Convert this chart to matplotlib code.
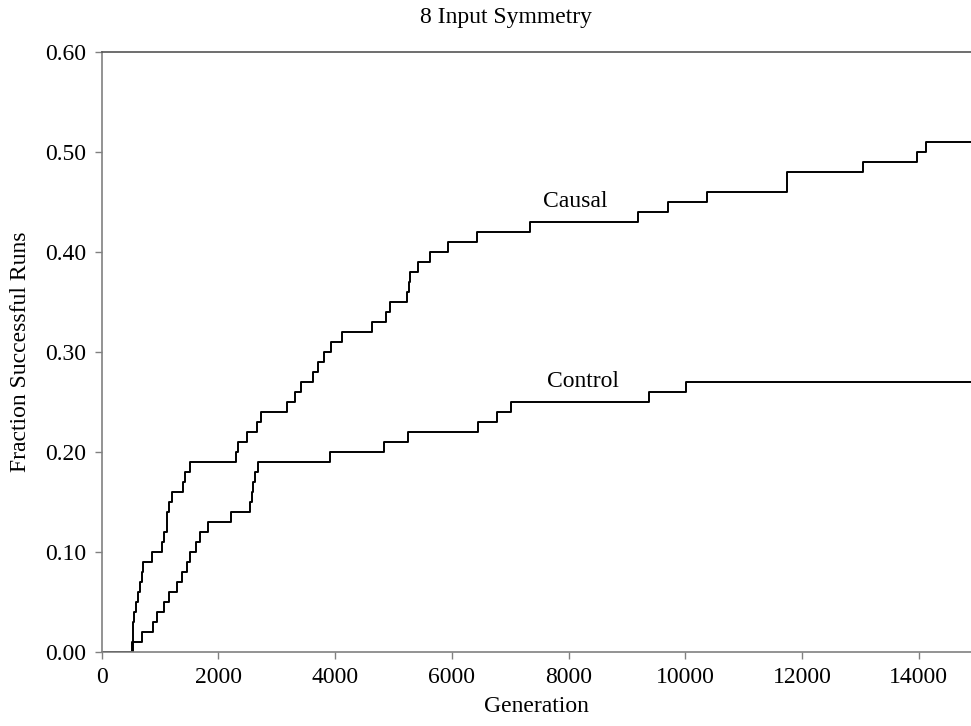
import matplotlib
matplotlib.use("Agg")
import matplotlib.pyplot as plt

# Causal series: generation at which fraction steps up, and new fraction
causal_gen = [0, 514, 535, 560, 585, 615, 650, 690, 713, 857, 1028, 1070, 1114, 1150,
              1199, 1388, 1427, 1513, 2296, 2340, 2484, 2666, 2724, 3180, 3312, 3409,
              3626, 3711, 3809, 3929, 4123, 4626, 4871, 4939, 5236, 5260, 5290, 5425,
              5625, 5939, 6424, 7338, 9183, 9697, 10365, 11736, 13038, 13973, 14122, 14900]
causal_frac = [0.00, 0.01, 0.03, 0.04, 0.05, 0.06, 0.07, 0.08, 0.09, 0.10, 0.11, 0.12, 0.14, 0.15,
               0.16, 0.17, 0.18, 0.19, 0.20, 0.21, 0.22, 0.23, 0.24, 0.25, 0.26, 0.27,
               0.28, 0.29, 0.30, 0.31, 0.32, 0.33, 0.34, 0.35, 0.36, 0.37, 0.38, 0.39,
               0.40, 0.41, 0.42, 0.43, 0.44, 0.45, 0.46, 0.48, 0.49, 0.50, 0.51, 0.51]

# Control series
control_gen = [0, 531, 685, 885, 942, 1067, 1153, 1295, 1381, 1456, 1513, 1610, 1684, 1827,
               2210, 2541, 2580, 2598, 2626, 2683, 3911, 4836, 5253, 6452, 6767, 7012,
               9382, 10010, 14900]
control_frac = [0.00, 0.01, 0.02, 0.03, 0.04, 0.05, 0.06, 0.07, 0.08, 0.09, 0.10, 0.11, 0.12, 0.13,
                0.14, 0.15, 0.16, 0.17, 0.18, 0.19, 0.20, 0.21, 0.22, 0.23, 0.24, 0.25,
                0.26, 0.27, 0.27]

x_ticks = [0, 2000, 4000, 6000, 8000, 10000, 12000, 14000]
y_ticks = [0.0, 0.1, 0.2, 0.3, 0.4, 0.5, 0.6]

title = "8 Input Symmetry"
x_label = "Generation"
y_label = "Fraction Successful Runs"
series_labels = ["Causal", "Control"]

plt.rcParams['font.family'] = ['Liberation Serif', 'DejaVu Serif']

fig = plt.figure(figsize=(9.71, 7.26), dpi=100)
ax = fig.add_axes([0.1047, 0.1023, 0.8953, 0.8265])

ax.step(causal_gen, causal_frac, where='post', color='black', lw=1.4)
ax.step(control_gen, control_frac, where='post', color='black', lw=1.4)

ax.set_xlim(0, 14893)
ax.set_ylim(0, 0.6)
ax.set_xticks(x_ticks)
ax.set_xticklabels([str(t) for t in x_ticks])
ax.set_yticks(y_ticks)
ax.set_yticklabels([f"{t:.2f}" for t in y_ticks])

for side in ['left', 'bottom']:
    ax.spines[side].set_color('#808080')
    ax.spines[side].set_linewidth(1.2)
ax.spines['top'].set_color('#555555')
ax.spines['top'].set_linewidth(1.2)
ax.spines['right'].set_visible(False)

ax.tick_params(axis='both', direction='out', length=5, width=1, color='#808080',
               labelsize=17, pad=6)

fig.text(506 / 971, 1 - 17 / 726, title, fontsize=17, ha='center', va='center')
ax.set_xlabel(x_label, fontsize=17, labelpad=6)
ax.set_ylabel(y_label, fontsize=17, labelpad=10)

ax.text(8109, 0.45, series_labels[0], fontsize=17, ha='center', va='center')
ax.text(8246, 0.27, series_labels[1], fontsize=17, ha='center', va='center')

fig.savefig("out.png", dpi=100)
